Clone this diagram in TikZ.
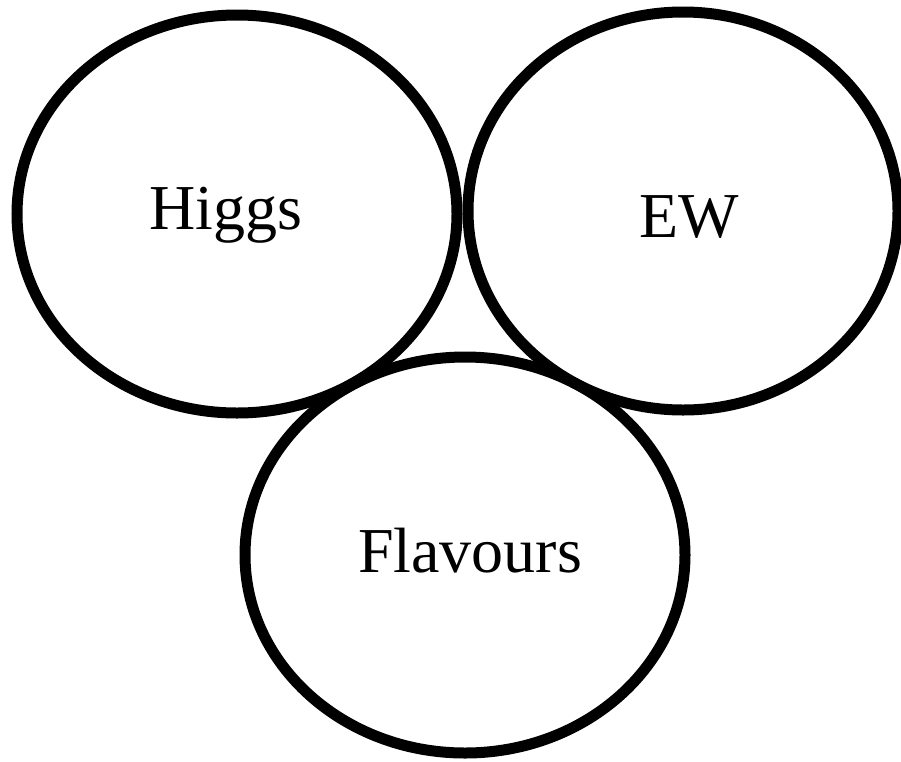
\documentclass[tikz,border=0pt]{standalone}
\usepackage{fontspec}
\setmainfont{Liberation Serif}
\usetikzlibrary{shapes.geometric}
\begin{document}
\begin{tikzpicture}[x=1pt,y=-1pt,
  ring/.style={draw=black, line width=11pt, ellipse, inner sep=0pt, outer sep=0pt},
  lbl/.style={anchor=base, inner sep=0pt, font=\fontsize{64}{70}\selectfont}]
\useasboundingbox (0,0) rectangle (901,761);
\node[ring, minimum width=440pt, minimum height=398pt] (higgs) at (237,214) {};
\node[ring, minimum width=430pt, minimum height=398pt] (ew) at (683,211) {};
\node[ring, minimum width=440pt, minimum height=396pt] (flav) at (465,555) {};
\node[lbl] (thiggs) at (226,229) {Higgs};
\node[lbl] (tew) at (689,237) {EW};
\node[lbl] (tflav) at (470,572) {Flavours};
\end{tikzpicture}
\end{document}
